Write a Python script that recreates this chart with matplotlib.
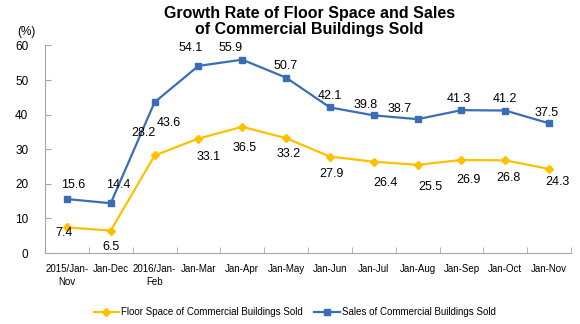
import numpy as np
import matplotlib
matplotlib.use("Agg")
import matplotlib.pyplot as plt

plt.rcParams["font.family"] = ["Liberation Sans", "DejaVu Sans"]

# Year-on-year growth, accumulated periods
periods = ["2015/Jan-\nNov", "Jan-Dec", "2016/Jan-\nFeb", "Jan-Mar", "Jan-Apr",
           "Jan-May", "Jan-Jun", "Jan-Jul", "Jan-Aug", "Jan-Sep", "Jan-Oct", "Jan-Nov"]
floor_space = [7.4, 6.5, 28.2, 33.1, 36.5, 33.2, 27.9, 26.4, 25.5, 26.9, 26.8, 24.3]
sales = [15.6, 14.4, 43.6, 54.1, 55.9, 50.7, 42.1, 39.8, 38.7, 41.3, 41.2, 37.5]

# label offsets in pixels, hand-tuned to keep the two series' labels apart
floor_off = [(-3, -6), (0, -16), (-11, 22), (10, -18), (2, -21), (3, -16),
             (2, -17), (12, -21), (13, -22), (7, -20), (3, -18), (8, -13)]
sales_off = [(6, 14), (7, 18), (14, -21), (-8, 18), (-12, 12), (0, 12),
             (0, 11), (-8, 10), (-18, 10), (-3, 11), (0, 12), (-2, 10)]

yellow = "#FFC000"
blue = "#3A6DB5"
grey = "#A6A6A6"

fig = plt.figure(figsize=(5.8, 3.24), dpi=100)
ax = fig.add_axes([0.0776, 0.219, 0.9069, 0.6406])

x = np.arange(len(periods))
ax.plot(x, floor_space, color=yellow, lw=1.6, marker="D", ms=4.5,
        label="Floor Space of Commercial Buildings Sold")
ax.plot(x, sales, color=blue, lw=1.6, marker="s", ms=4,
        label="Sales of Commercial Buildings Sold")

for xi, v, (dx, dy) in zip(x, floor_space, floor_off):
    ax.annotate(f"{v:.1f}", (xi, v), xytext=(dx, dy), textcoords="offset pixels",
                ha="center", va="center", fontsize=9)
for xi, v, (dx, dy) in zip(x, sales, sales_off):
    ax.annotate(f"{v:.1f}", (xi, v), xytext=(dx, dy), textcoords="offset pixels",
                ha="center", va="center", fontsize=9)

ax.set_xlim(-0.5, len(periods) - 0.5)
ax.set_ylim(0, 60)
ax.set_yticks(range(0, 61, 10))
ax.set_xticks(x)
ax.set_xticklabels(periods, fontsize=7, linespacing=1.35)
ax.set_xticks(np.arange(-0.5, len(periods), 1), minor=True)
ax.tick_params(axis="x", which="major", length=0, pad=8)
ax.tick_params(axis="x", which="minor", direction="in", length=4, color=grey)
ax.tick_params(axis="y", direction="in", length=4, color=grey, labelsize=8.5, pad=12)

for side in ["top", "right"]:
    ax.spines[side].set_visible(False)
for side in ["left", "bottom"]:
    ax.spines[side].set_color(grey)
    ax.spines[side].set_linewidth(0.8)

fig.text(0.045, 0.9, "(%)", fontsize=8.5, ha="center", va="center")
fig.text(0.533, 0.933, "Growth Rate of Floor Space and Sales\nof Commercial Buildings Sold",
         ha="center", va="center", fontsize=11.5, fontweight="bold", linespacing=1.12)

fig.legend(loc="center", bbox_to_anchor=(0.508, 0.037), ncol=2, frameon=False,
           fontsize=7, handlelength=2.6, handletextpad=0.2, columnspacing=1.2)

fig.savefig("out.png", dpi=100)
